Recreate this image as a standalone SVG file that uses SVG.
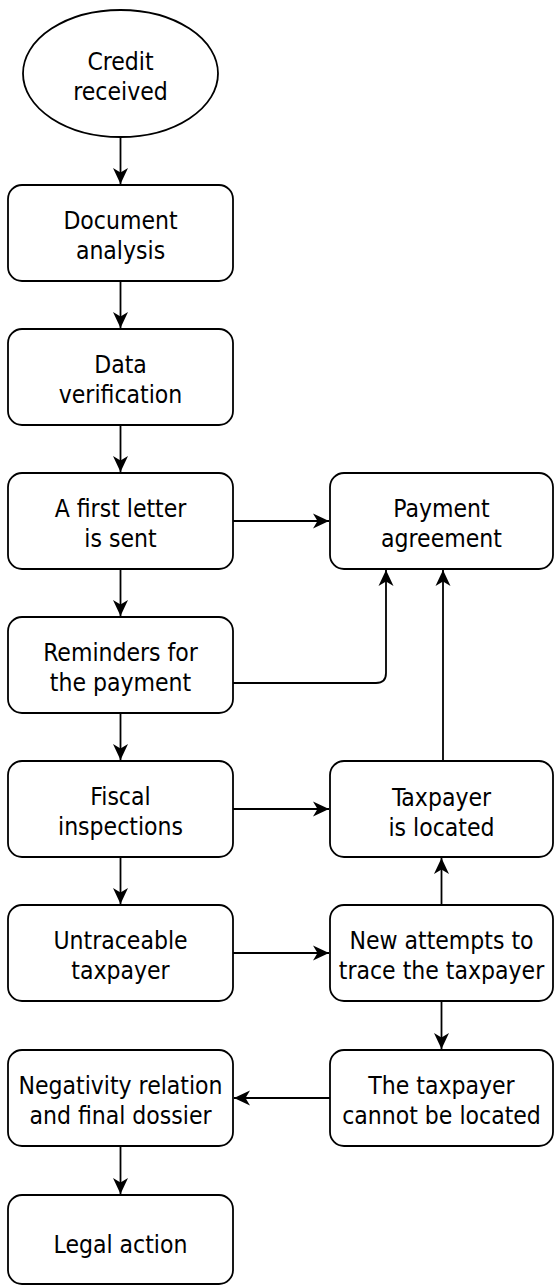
<svg xmlns="http://www.w3.org/2000/svg" width="555" height="1287" viewBox="0 0 555 1287">
<style>
.n{fill:#fff;stroke:#000;stroke-width:1.8}
.t{font-family:"DejaVu Sans Condensed","DejaVu Sans",Verdana,sans-serif;font-stretch:condensed;font-size:24.5px;fill:#000;text-anchor:middle}
.c{fill:none;stroke:#000;stroke-width:1.8}
</style>
<defs>
<marker id="ah" markerUnits="userSpaceOnUse" markerWidth="17" markerHeight="16" refX="16" refY="8" orient="auto" viewBox="0 0 17 16">
<path d="M0,0.5 L16,8 L0,15.5 L4.5,8 Z" fill="#000"/>
</marker>
</defs>
<rect width="555" height="1287" fill="#fff"/>
<g id="connectors">
<path class="c" d="M120.5,137 V184" marker-end="url(#ah)"/>
<path class="c" d="M120.5,281 V328" marker-end="url(#ah)"/>
<path class="c" d="M120.5,425 V472" marker-end="url(#ah)"/>
<path class="c" d="M120.5,569 V616" marker-end="url(#ah)"/>
<path class="c" d="M120.5,713 V760" marker-end="url(#ah)"/>
<path class="c" d="M120.5,857 V904" marker-end="url(#ah)"/>
<path class="c" d="M120.5,1146 V1194" marker-end="url(#ah)"/>
<path class="c" d="M233,521 H329" marker-end="url(#ah)"/>
<path class="c" d="M233,683 H376 Q386,683 386,673 V570" marker-end="url(#ah)"/>
<path class="c" d="M233,809 H329" marker-end="url(#ah)"/>
<path class="c" d="M233,953 H329" marker-end="url(#ah)"/>
<path class="c" d="M443,761 V570" marker-end="url(#ah)"/>
<path class="c" d="M441.5,905 V858" marker-end="url(#ah)"/>
<path class="c" d="M441.5,1001 V1049" marker-end="url(#ah)"/>
<path class="c" d="M330,1098 H234" marker-end="url(#ah)"/>
</g>
<g id="credit-received">
<ellipse class="n" cx="120.5" cy="73.5" rx="97.5" ry="63.5"/>
<text class="t" x="120.5" y="70">Credit</text>
<text class="t" x="120.5" y="100">received</text>
</g>
<g id="document-analysis">
<rect class="n" x="8" y="185" width="225" height="96" rx="14"/>
<text class="t" x="120.5" y="229">Document</text>
<text class="t" x="120.5" y="259">analysis</text>
</g>
<g id="data-verification">
<rect class="n" x="8" y="329" width="225" height="96" rx="14"/>
<text class="t" x="120.5" y="373">Data</text>
<text class="t" x="120.5" y="403">verification</text>
</g>
<g id="first-letter">
<rect class="n" x="8" y="473" width="225" height="96" rx="14"/>
<text class="t" x="120.5" y="517">A first letter</text>
<text class="t" x="120.5" y="547">is sent</text>
</g>
<g id="payment-agreement">
<rect class="n" x="330" y="473" width="223" height="96" rx="14"/>
<text class="t" x="441.5" y="517">Payment</text>
<text class="t" x="441.5" y="547">agreement</text>
</g>
<g id="reminders">
<rect class="n" x="8" y="617" width="225" height="96" rx="14"/>
<text class="t" x="120.5" y="661">Reminders for</text>
<text class="t" x="120.5" y="691">the payment</text>
</g>
<g id="fiscal-inspections">
<rect class="n" x="8" y="761" width="225" height="96" rx="14"/>
<text class="t" x="120.5" y="805">Fiscal</text>
<text class="t" x="120.5" y="835">inspections</text>
</g>
<g id="taxpayer-located">
<rect class="n" x="330" y="761" width="223" height="96" rx="14"/>
<text class="t" x="441.5" y="806">Taxpayer</text>
<text class="t" x="441.5" y="836">is located</text>
</g>
<g id="untraceable">
<rect class="n" x="8" y="905" width="225" height="96" rx="14"/>
<text class="t" x="120.5" y="949">Untraceable</text>
<text class="t" x="120.5" y="979">taxpayer</text>
</g>
<g id="new-attempts">
<rect class="n" x="330" y="905" width="223" height="96" rx="14"/>
<text class="t" x="441.5" y="949">New attempts to</text>
<text class="t" x="441.5" y="979">trace the taxpayer</text>
</g>
<g id="cannot-be-located">
<rect class="n" x="330" y="1050" width="223" height="96" rx="14"/>
<text class="t" x="441.5" y="1094">The taxpayer</text>
<text class="t" x="441.5" y="1124">cannot be located</text>
</g>
<g id="negativity-relation">
<rect class="n" x="8" y="1050" width="225" height="96" rx="14"/>
<text class="t" x="120.5" y="1094">Negativity relation</text>
<text class="t" x="120.5" y="1124">and final dossier</text>
</g>
<g id="legal-action">
<rect class="n" x="8" y="1195" width="225" height="89" rx="14"/>
<text class="t" x="120.5" y="1253">Legal action</text>
</g>
</svg>
